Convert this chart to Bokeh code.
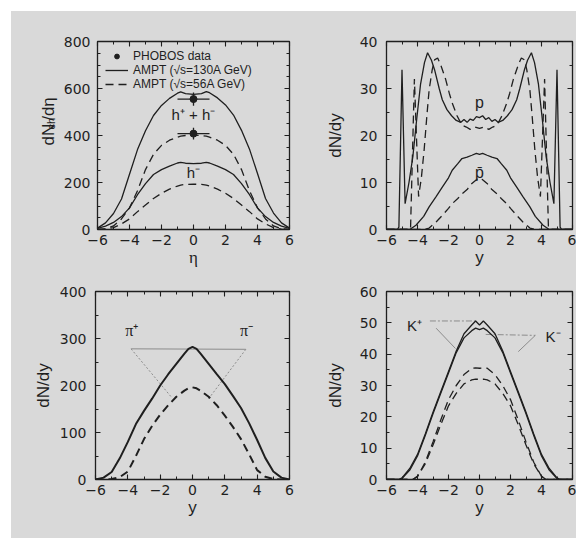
import numpy as np
from bokeh.plotting import figure
from bokeh.layouts import row, column
from bokeh.models import (Range1d, LinearAxis, SingleIntervalTicker, Legend, LegendItem,
                          Spacer, CustomLabelingPolicy)
from bokeh.core.properties import value
from bokeh.embed import file_html
from bokeh.resources import INLINE

# ---------------- Panel 1: charged hadrons dN/deta ----------------
eta = [-6, -5.5, -5, -4.5, -4, -3.5, -3, -2.5, -2, -1.5, -1, -0.8, -0.5, 0,
       0.5, 0.8, 1, 1.5, 2, 2.5, 3, 3.5, 4, 4.5, 5, 5.5, 6]
hh_130 = [6, 28, 68, 130, 235, 340, 420, 485, 528, 558, 580, 586, 578, 575,
          578, 587, 582, 560, 530, 487, 422, 342, 238, 132, 70, 28, 6]
hh_56 = [0, 3, 15, 45, 92, 165, 255, 320, 358, 380, 393, 397, 400, 402,
         400, 397, 393, 380, 358, 320, 255, 165, 92, 45, 15, 3, 0]
hm_130 = [5, 14, 30, 55, 92, 148, 195, 234, 255, 270, 283, 286, 282, 280,
          282, 286, 283, 270, 255, 234, 195, 148, 92, 55, 30, 14, 5]
hm_56 = [0, 2, 8, 24, 45, 76, 104, 132, 154, 172, 185, 189, 192, 193,
         192, 189, 185, 172, 154, 132, 104, 76, 45, 24, 8, 2, 0]
phobos_eta = [0, 0]
phobos_val = [555, 408]
phobos_xerr = [1, 1]
phobos_yerr = [28, 25]

# ---------------- Panel 2: protons / antiprotons ----------------
p130_y = [-6, -5.3, -5.2, -5.0, -4.8, -4.55, -4.3, -4.05, -3.8, -3.55, -3.35, -3.1, -2.9,
          -2.6, -2.4, -2.1, -1.8, -1.5, -1.2, -1.0, -0.8, -0.6, -0.4, -0.2, 0, 0.2, 0.4,
          0.6, 0.8, 1.0, 1.2, 1.5, 1.8, 2.1, 2.4, 2.6, 2.9, 3.1, 3.35, 3.55, 3.8, 4.05,
          4.3, 4.55, 4.8, 5.0, 5.2, 5.3, 6]
p130_v = [0, 0, 0.5, 34, 5.5, 10, 15.5, 23.5, 31, 35.5, 37.6, 36, 34,
          30, 27.6, 25.5, 24.2, 23.2, 22.8, 23.4, 22.8, 23.5, 23.2, 24.0, 23.8, 24.2, 23.4,
          23.8, 23.0, 23.4, 22.8, 23.2, 24.2, 25.5, 27.6, 30, 34, 36, 37.6, 35.5, 31, 23.5,
          15.5, 10, 5.5, 34, 0.5, 0, 0]
p56_y = [-6, -4.45, -4.2, -3.93, -3.75, -3.57, -3.4, -3.25, -3.05, -2.9, -2.7, -2.5,
         -2.18, -1.95, -1.76, -1.45, -1.13, -0.85, -0.6, -0.3, 0, 0.3, 0.6, 0.85, 1.13,
         1.45, 1.76, 1.95, 2.18, 2.5, 2.7, 2.9, 3.05, 3.25, 3.4, 3.57, 3.75, 3.93, 4.2,
         4.45, 6]
p56_v = [0, 0, 32, 7, 11, 17, 24, 29.7, 34, 36.1, 36.5, 35,
         31.9, 29, 26.9, 24.2, 22.2, 21.8, 21.3, 21.8, 21.5, 21.8, 21.3, 21.8, 22.2,
         24.2, 26.9, 29, 31.9, 35, 36.5, 36.1, 34, 29.7, 24, 17, 11, 7, 32,
         0, 0]
pbar130_y = [-6, -4.5, -4.1, -3.6, -3.25, -2.8, -2.4, -2.0, -1.76, -1.4, -1.13, -0.8, -0.49,
             -0.2, 0, 0.2, 0.49, 0.8, 1.13, 1.4, 1.76, 2.0, 2.4, 2.8, 3.25, 3.6, 4.1, 4.5, 6]
pbar130_v = [0, 0, 0.9, 2.8, 4.8, 7, 9, 11, 12.6, 14, 15.1, 15.4, 15.8,
             16.2, 16, 16.2, 15.8, 15.4, 15.1, 14, 12.6, 11, 9, 7, 4.8, 2.8, 0.9, 0, 0]
pbar56_y = [-6, -3.6, -3.25, -2.8, -2.4, -2.0, -1.76, -1.4, -1.13, -0.8, -0.49, -0.2, 0,
            0.2, 0.49, 0.8, 1.13, 1.4, 1.76, 2.0, 2.4, 2.8, 3.25, 3.6, 6]
pbar56_v = [0, 0, 0.3, 1.6, 3, 4.5, 5.5, 6.6, 7.6, 8.5, 9.8, 10.6, 11,
            10.6, 9.8, 8.5, 7.6, 6.6, 5.5, 4.5, 3, 1.6, 0.3, 0, 0]

# ---------------- Panel 3: pions ----------------
rap = [-6, -5.5, -5, -4.5, -4, -3.5, -3, -2.5, -2, -1.5, -1, -0.5, -0.25, 0,
       0.25, 0.5, 1, 1.5, 2, 2.5, 3, 3.5, 4, 4.5, 5, 5.5, 6]
pi_130 = [0, 4, 16, 45, 80, 118, 146, 172, 200, 224, 246, 268, 278, 282,
          278, 268, 246, 224, 203, 178, 152, 120, 84, 46, 17, 4, 0]
pi_56 = [0, 0, 1, 5, 17, 50, 86, 114, 138, 158, 176, 189, 194, 196,
         194, 189, 176, 158, 136, 112, 86, 54, 20, 6, 1, 0, 0]

# ---------------- Panel 4: kaons ----------------
k130_y = [-6, -5.5, -5.2, -5, -4.5, -4, -3.5, -3, -2.5, -2, -1.5, -1, -0.5, -0.25, 0,
          0.25, 0.5, 1, 1.5, 2, 2.5, 3, 3.5, 4, 4.5, 5, 5.2, 5.5, 6]
kplus_130 = [0, 0, 0, 0.5, 3.5, 8, 14.5, 21.5, 28, 34.5, 41, 46.5, 49.3, 50.6, 49.3,
             50.6, 49.3, 46.5, 41, 34.5, 28, 21.5, 14.5, 8, 3.5, 0.5, 0, 0, 0]
kminus_130 = [0, 0, 0, 0.3, 3, 7.5, 14, 21, 27.5, 34, 40.5, 45.2, 47.5, 48.3, 47.8,
              48.3, 47.5, 45.2, 40.5, 34, 27.5, 21, 14, 7.5, 3, 0.3, 0, 0, 0]
k56_y = [-6, -4.5, -4.3, -4, -3.5, -3, -2.5, -2, -1.5, -1, -0.5, -0.25, 0,
         0.25, 0.5, 1, 1.5, 2, 2.5, 3, 3.5, 4, 4.3, 4.5, 6]
kplus_56 = [0, 0, 0, 1, 5.5, 12, 19, 25.5, 30, 33.5, 35.5, 35.6, 35.5,
            35.6, 35.5, 33.5, 30, 25.5, 19, 12, 5.5, 1, 0, 0, 0]
kminus_56 = [0, 0, 0, 1, 5, 11, 17.5, 23.5, 27.5, 30.5, 31.8, 32, 32,
             32, 31.8, 30.5, 27.5, 23.5, 17.5, 11, 5, 1, 0, 0, 0]

# annotation labels (data coordinates) and pointer lines
pi_label_x = [-3.75, 3.35]
pi_label_v = [316, 316]
pi_labels = ["π⁺", "π⁻"]
pi_ptr_h_x = [-3.8, 3.3]
pi_ptr_h_v = [278, 277]
pi_ptr_l_x = [-3.8, -1.3]
pi_ptr_l_v = [278, 175]
pi_ptr_r_x = [3.3, 1.0]
pi_ptr_r_v = [277, 172]
k_label_x = [-4.2, 4.75]
k_label_v = [49.3, 45.5]
k_labels = ["K⁺", "K⁻"]
kp_ptr_h_x = [-3.2, -0.2]
kp_ptr_h_v = [50.6, 50.6]
kp_ptr_d_x = [-2.8, -1.55]
kp_ptr_d_v = [48.3, 41.8]
km_ptr_h_x = [0.4, 3.6]
km_ptr_h_v = [46.3, 46.0]
km_ptr_d_x = [3.6, 2.5]
km_ptr_d_v = [46.0, 40.8]

# y-axis title of panel 1, split so that "ch" can be a subscript
ytitle_parts = ["dN", "ch", "/dη"]
ytitle_sizes = ["17px", "11px", "17px"]

BG = "#d9d9d9"
INK = "#1f1f1f"
GREY = "#8c8c8c"
SANS = "Liberation Sans"
TICKFONT = "DejaVu Sans"
MINUS = {-6: "\u22126", -4: "\u22124", -2: "\u22122"}


def style_axis(ax, labels=True, standoff=9):
    ax.major_tick_in = 5
    ax.major_tick_out = 0
    ax.minor_tick_in = 3
    ax.minor_tick_out = 0
    ax.major_tick_line_color = INK
    ax.minor_tick_line_color = INK
    ax.major_tick_line_width = 1.1
    ax.minor_tick_line_width = 1.0
    ax.axis_line_color = None
    if labels:
        ax.major_label_text_font = TICKFONT
        ax.major_label_text_font_size = "14px"
        ax.major_label_text_color = INK
        ax.major_label_standoff = standoff
    else:
        ax.major_label_text_font_size = "1px"
        ax.major_label_standoff = 0
        ax.major_label_policy = CustomLabelingPolicy(code="for (const i of indices) indices.unset(i)")


def make_fig(w, h, left, right, top, bottom, ymax, ymajor, yminor, ylabel, xlabel,
             xlabel_font=SANS, ylabel_standoff=10, ytick_standoff=9):
    p = figure(width=w, height=h, output_backend="svg", toolbar_location=None,
               x_range=Range1d(-6, 6), y_range=Range1d(0, ymax),
               min_border_left=left, min_border_right=right,
               min_border_top=top, min_border_bottom=bottom,
               background_fill_color=BG, border_fill_color=BG,
               outline_line_color=INK, outline_line_width=1.3)
    p.grid.visible = False
    p.xaxis.ticker = SingleIntervalTicker(interval=2, num_minor_ticks=2)
    p.yaxis.ticker = SingleIntervalTicker(interval=ymajor, num_minor_ticks=yminor)
    style_axis(p.xaxis[0], True, 5)
    style_axis(p.yaxis[0], True, ytick_standoff)
    p.xaxis[0].major_label_overrides = MINUS
    p.xaxis[0].axis_label = xlabel
    p.xaxis[0].axis_label_text_font = xlabel_font
    p.xaxis[0].axis_label_text_font_size = "17px"
    p.xaxis[0].axis_label_text_font_style = "normal"
    p.xaxis[0].axis_label_text_color = INK
    p.xaxis[0].axis_label_standoff = 0
    if ylabel:
        p.yaxis[0].axis_label = ylabel
        p.yaxis[0].axis_label_text_font = SANS
        p.yaxis[0].axis_label_text_font_size = "17px"
        p.yaxis[0].axis_label_text_font_style = "normal"
        p.yaxis[0].axis_label_text_color = INK
        p.yaxis[0].axis_label_standoff = ylabel_standoff
    top_ax = LinearAxis(ticker=SingleIntervalTicker(interval=2, num_minor_ticks=2))
    right_ax = LinearAxis(ticker=SingleIntervalTicker(interval=ymajor, num_minor_ticks=yminor))
    style_axis(top_ax, False)
    style_axis(right_ax, False)
    p.add_layout(top_ax, "above")
    p.add_layout(right_ax, "right")
    return p


# ---------- narrow strip holding the rotated y title of panel 1 (pixel scale) ----------
ttl = figure(width=49, height=264, output_backend="svg", toolbar_location=None,
             x_range=Range1d(0, 49), y_range=Range1d(0, 264),
             x_axis_location=None, y_axis_location=None, min_border=0,
             background_fill_color=BG, border_fill_color=BG, outline_line_color=None)
ttl.grid.visible = False
ttl.text(x=[37, 39.5, 37], y=[118, 140.3, 152.6], text=ytitle_parts, angle=np.pi / 2,
         text_font=value(SANS), text_font_size=ytitle_sizes, text_color=INK,
         text_align="left", text_baseline="alphabetic")

# ---------- panel 1 ----------
p1 = make_fig(238, 264, 35, 9, 30, 46, 800, 200, 4, None, "η",
              xlabel_font="Liberation Serif", ytick_standoff=7)
r130 = p1.line(eta, hh_130, line_color=INK, line_width=1.3)
r56 = p1.line(eta, hh_56, line_color=INK, line_width=1.3, line_dash="8 5")
p1.line(eta, hm_130, line_color=INK, line_width=1.3)
p1.line(eta, hm_56, line_color=INK, line_width=1.3, line_dash="8 5")
pe = np.array(phobos_eta, dtype=float)
pv = np.array(phobos_val, dtype=float)
pxe = np.array(phobos_xerr, dtype=float)
pye = np.array(phobos_yerr, dtype=float)
p1.segment(x0=pe - pxe, y0=pv, x1=pe + pxe, y1=pv, line_color=INK, line_width=1.3)
p1.segment(x0=pe, y0=pv - pye, x1=pe, y1=pv + pye, line_color=INK, line_width=1.3)
rdat = p1.scatter(phobos_eta, phobos_val, size=7, color=INK)
p1.text(x=[0, 0], y=[489, 243], text=["h⁺ + h⁻", "h⁻"], text_font=value(SANS),
        text_font_size="15px", text_align="center", text_baseline="middle", text_color=INK)
leg = Legend(items=[LegendItem(label="PHOBOS data", renderers=[rdat]),
                    LegendItem(label="AMPT (√s=130A GeV)", renderers=[r130]),
                    LegendItem(label="AMPT (√s=56A GeV)", renderers=[r56])],
             location="top_left", border_line_color=None, background_fill_alpha=0,
             label_text_font=SANS, label_text_font_size="12px", label_text_color=INK,
             label_text_line_height=1.0,
             glyph_width=23, glyph_height=12, label_height=12, spacing=-2,
             padding=4, margin=8, label_standoff=5)
p1.add_layout(leg)

# ---------- panel 2 ----------
p2 = make_fig(278, 264, 88, 1, 30, 46, 40, 10, 2, "dN/dy", "y", ylabel_standoff=12)
p2.line(p130_y, p130_v, line_color=INK, line_width=1.3)
p2.line(p56_y, p56_v, line_color=INK, line_width=1.3, line_dash="8 5")
p2.line(pbar130_y, pbar130_v, line_color=INK, line_width=1.3)
p2.line(pbar56_y, pbar56_v, line_color=INK, line_width=1.3, line_dash="8 5")
p2.text(x=[0, 0], y=[27, 12.2], text=["p", "p̄"], text_font=value(SANS),
        text_font_size="16px", text_align="center", text_baseline="middle", text_color=INK)

# ---------- panel 3 ----------
p3 = make_fig(287, 263, 84, 9, 16, 59, 400, 100, 2, "dN/dy", "y", ylabel_standoff=4)
p3.line(pi_ptr_h_x, pi_ptr_h_v, line_color=GREY, line_width=1)
p3.line(pi_ptr_l_x, pi_ptr_l_v, line_color=GREY, line_width=1, line_dash="2 2")
p3.line(pi_ptr_r_x, pi_ptr_r_v, line_color=GREY, line_width=1, line_dash="2 2")
p3.line(rap, pi_130, line_color=INK, line_width=2)
p3.line(rap, pi_56, line_color=INK, line_width=2, line_dash="8 5")
p3.text(x=pi_label_x, y=pi_label_v, text=pi_labels, text_font=value("Liberation Serif"),
        text_font_size="16px", text_align="center", text_baseline="middle", text_color=INK)

# ---------- panel 4 ----------
p4 = make_fig(278, 263, 88, 1, 16, 59, 60, 10, 2, "dN/dy", "y", ylabel_standoff=12)
p4.line(kp_ptr_h_x, kp_ptr_h_v, line_color=GREY, line_width=1, line_dash="6 2 2 2")
p4.line(kp_ptr_d_x, kp_ptr_d_v, line_color=GREY, line_width=1)
p4.line(km_ptr_h_x, km_ptr_h_v, line_color=GREY, line_width=1, line_dash="6 2 2 2")
p4.line(km_ptr_d_x, km_ptr_d_v, line_color=GREY, line_width=1)
p4.line(k130_y, kplus_130, line_color=INK, line_width=1.3)
p4.line(k130_y, kminus_130, line_color=INK, line_width=1.3)
p4.line(k56_y, kplus_56, line_color=INK, line_width=1.3, line_dash="8 5")
p4.line(k56_y, kminus_56, line_color=INK, line_width=1.3, line_dash="8 5")
p4.text(x=k_label_x, y=k_label_v, text=k_labels, text_font=value(SANS),
        text_font_size="15px", text_align="center", text_baseline="middle", text_color=INK)

top_row = row(ttl, p1, p2, styles={"background-color": BG})
bottom_row = row(p3, p4, styles={"background-color": BG})
body = column(top_row, bottom_row, styles={"background-color": BG})
page = column(Spacer(height=11, width=576), row(Spacer(width=11, height=527), body))
open("out.html", "w").write(file_html(page, INLINE))
